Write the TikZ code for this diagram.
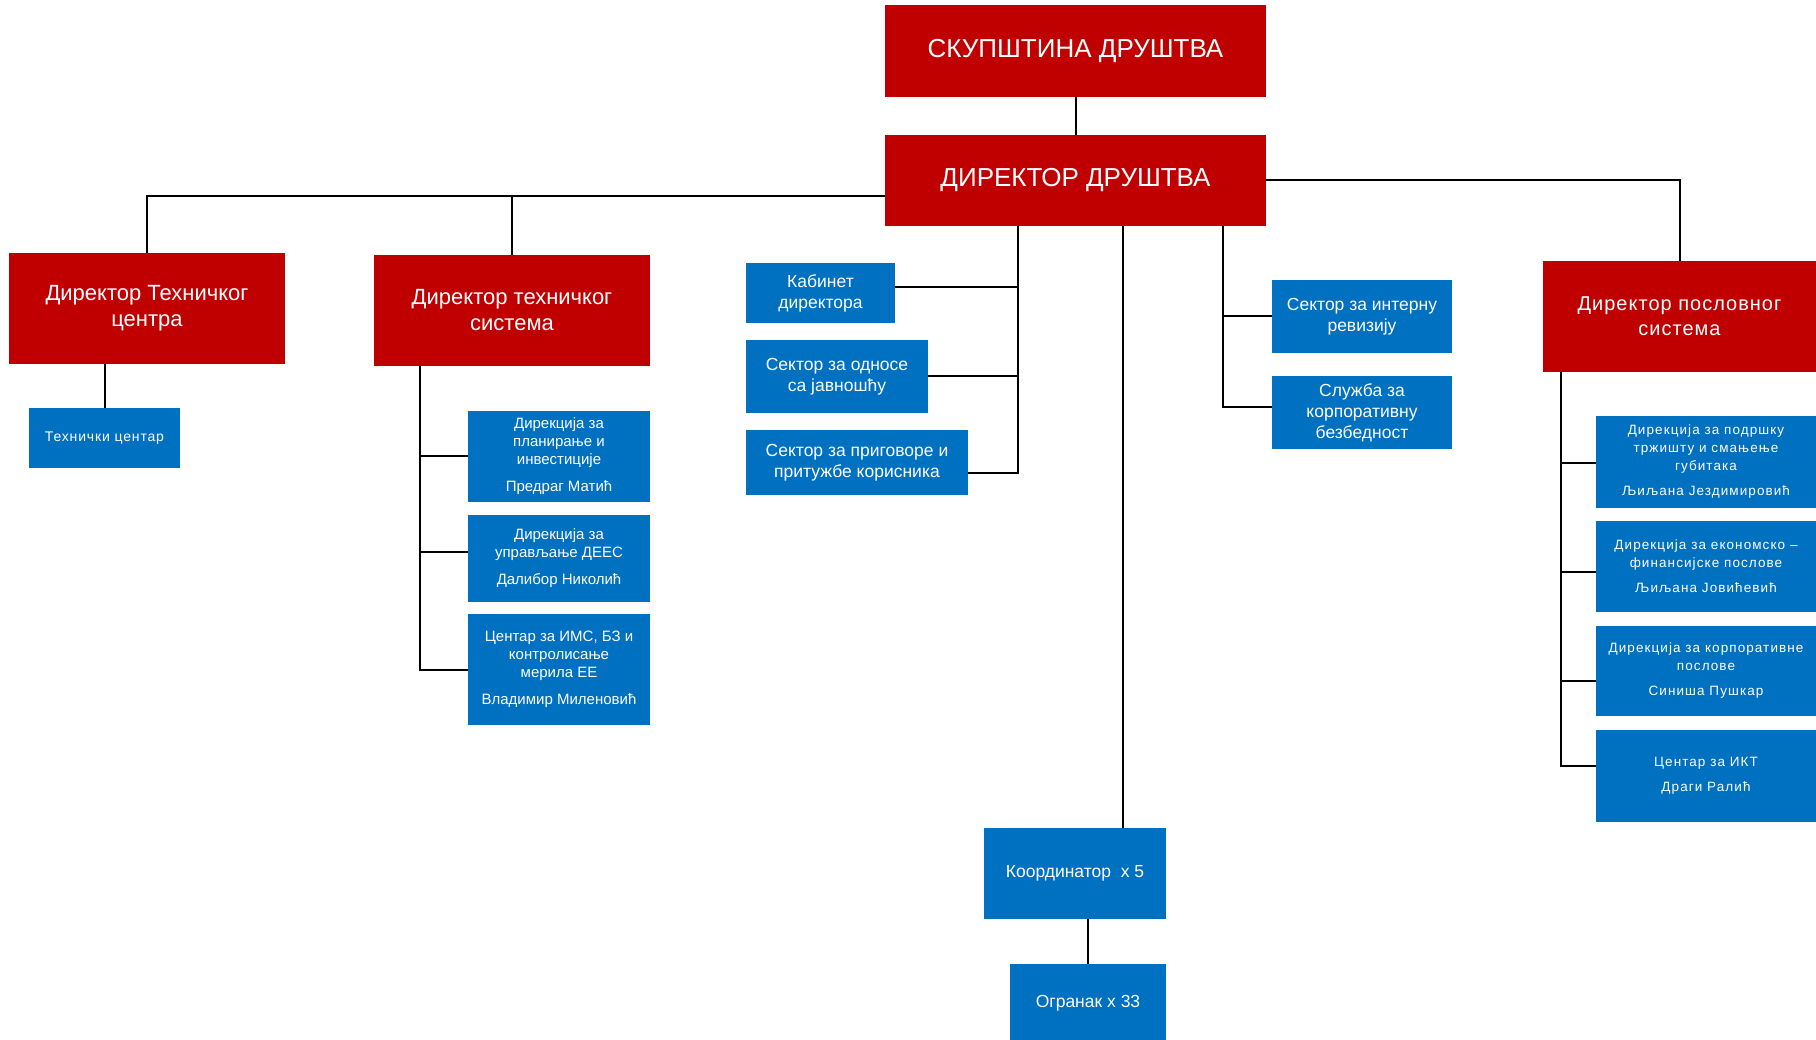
\documentclass[tikz,border=0pt]{standalone}
\usepackage{fontspec}
\setmainfont{Liberation Sans}
\newfontfamily\spacedA[LetterSpace=5]{Liberation Sans}
\newfontfamily\spacedB[LetterSpace=8]{Liberation Sans}
\newfontfamily\spacedC[LetterSpace=6]{Liberation Sans}
\definecolor{boxred}{HTML}{C00000}
\definecolor{boxblue}{HTML}{0070C0}
\newcommand\szTop{\fontsize{26}{31}\selectfont}
\newcommand\szRed{\fontsize{22}{26}\selectfont}
\newcommand\szRedR{\spacedA\fontsize{20}{25}\selectfont}
\newcommand\szMid{\fontsize{17.5}{21}\selectfont}
\newcommand\szSmall{\fontsize{15}{18}\selectfont}
\newcommand\szRight{\spacedB\fontsize{13.5}{18}\selectfont}
\newcommand\szTc{\spacedC\fontsize{14}{17}\selectfont}
\begin{document}
\begin{tikzpicture}[x=1pt,y=-1pt,
  box/.style={draw=none, inner sep=0pt, text=white, align=center},
  redbox/.style={box, fill=boxred},
  bluebox/.style={box, fill=boxblue},
  conn/.style={line width=2pt, draw=black}]
\useasboundingbox (0,0) rectangle (1816,1040);
% top level
\node[redbox, minimum width=381pt, minimum height=92pt, font=\szTop] (top) at (1075.5,51) {СКУПШТИНА ДРУШТВА};
\node[redbox, minimum width=381pt, minimum height=91pt, font=\szTop] (dir) at (1075.5,180.5) {ДИРЕКТОР ДРУШТВА};
% second level red
\node[redbox, minimum width=276pt, minimum height=111pt, font=\szRed] (b1) at (147,308.5) {Директор Техничког\\центра};
\node[redbox, minimum width=276pt, minimum height=111pt, font=\szRed] (b2) at (512,310.5) {Директор техничког\\система};
\node[redbox, minimum width=273pt, minimum height=111pt, font=\szRedR] (b3) at (1679.5,316.5) {Директор пословног\\система};
% under b1
\node[bluebox, minimum width=151pt, minimum height=60pt, font=\szTc] (tc) at (104.5,438) {Технички центар};
% under b2
\node[bluebox, minimum width=182pt, minimum height=91pt, font=\szSmall] (d1) at (559,456.5) {Дирекција за\\планирање и\\инвестиције\\[9pt]Предраг Матић};
\node[bluebox, minimum width=182pt, minimum height=87pt, font=\szSmall] (d2) at (559,558.5) {Дирекција за\\управљање ДЕЕС\\[9pt]Далибор Николић};
\node[bluebox, minimum width=182pt, minimum height=111pt, font=\szSmall] (d3) at (559,669.5) {Центар за ИМС, БЗ и\\контролисање\\мерила ЕЕ\\[9pt]Владимир Миленовић};
% staff left
\node[bluebox, minimum width=149pt, minimum height=60pt, font=\szMid] (kab) at (820.5,293) {Кабинет\\директора};
\node[bluebox, minimum width=182pt, minimum height=73pt, font=\szMid] (odn) at (837,376.5) {Сектор за односе\\са јавношћу};
\node[bluebox, minimum width=222pt, minimum height=65pt, font=\szMid] (prig) at (857,462.5) {Сектор за приговоре и\\притужбе корисника};
% staff right
\node[bluebox, minimum width=180pt, minimum height=73pt, font=\szMid] (int) at (1362,316.5) {Сектор за интерну\\ревизију};
\node[bluebox, minimum width=180pt, minimum height=73pt, font=\szMid] (sluz) at (1362,412.5) {Служба за\\корпоративну\\безбедност};
% regional
\node[bluebox, minimum width=182pt, minimum height=91pt, font=\szMid] (koord) at (1075,873.5) {Координатор\ \ x 5};
\node[bluebox, minimum width=156pt, minimum height=78pt, font=\szMid] (ogr) at (1088,1003) {Огранак x 33};
% under b3
\node[bluebox, minimum width=220pt, minimum height=91pt, font=\szRight] (r1) at (1706,462) {Дирекција за подршку\\тржишту и смањење\\губитака\\[7pt]Љиљана Јездимировић};
\node[bluebox, minimum width=220pt, minimum height=91pt, font=\szRight] (r2) at (1706,566.5) {Дирекција за економско –\\финансијске послове\\[7pt]Љиљана Јовићевић};
\node[bluebox, minimum width=220pt, minimum height=90pt, font=\szRight] (r3) at (1706,670.5) {Дирекција за корпоративне\\послове\\[7pt]Синиша Пушкар};
\node[bluebox, minimum width=220pt, minimum height=92pt, font=\szRight] (r4) at (1706,775.5) {Центар за ИКТ\\[7pt]Драги Ралић};
% helper coordinates
\coordinate (L) at ([yshift=-15.5pt]dir.west);
\coordinate (T2) at ([xshift=46pt]b2.south west);
\coordinate (M) at ([xshift=-57.5pt]dir.south);
\coordinate (K) at ([xshift=47.5pt]dir.south);
\coordinate (R) at ([xshift=147.5pt]dir.south);
\coordinate (T3) at ([xshift=18pt]b3.south west);
\coordinate (kabc) at ([yshift=6pt]kab.east);
\coordinate (prigc) at ([yshift=-10.5pt]prig.east);
\coordinate (sluzc) at ([yshift=5.5pt]sluz.west);
\coordinate (d2c) at ([yshift=6.5pt]d2.west);
\coordinate (r1c) at ([yshift=-1pt]r1.west);
\coordinate (r2c) at ([yshift=-5.5pt]r2.west);
\coordinate (r3c) at ([yshift=-10.5pt]r3.west);
\coordinate (r4c) at ([yshift=10pt]r4.west);
% connectors
\draw[conn] (top.south) -- (dir.north);
\draw[conn] (L) -| (b1.north);
\draw[conn] (L -| b2.north) -- (b2.north);
\draw[conn] (dir.east) -| (b3.north);
\draw[conn] (tc.north |- b1.south) -- (tc.north);
\draw[conn] (T2) |- (d3.west);
\draw[conn] (T2 |- d1.west) -- (d1.west);
\draw[conn] (d2c -| T2) -- (d2c);
\draw[conn] (M) |- (prigc);
\draw[conn] (kabc -| M) -- (kabc);
\draw[conn] (odn.east -| M) -- (odn.east);
\draw[conn] (K) -- (K |- koord.north);
\draw[conn] (koord.south -| ogr.north) -- (ogr.north);
\draw[conn] (R) |- (sluzc);
\draw[conn] (int.west -| R) -- (int.west);
\draw[conn] (T3) |- (r4c);
\draw[conn] (r1c -| T3) -- (r1c);
\draw[conn] (r2c -| T3) -- (r2c);
\draw[conn] (r3c -| T3) -- (r3c);
\end{tikzpicture}
\end{document}
